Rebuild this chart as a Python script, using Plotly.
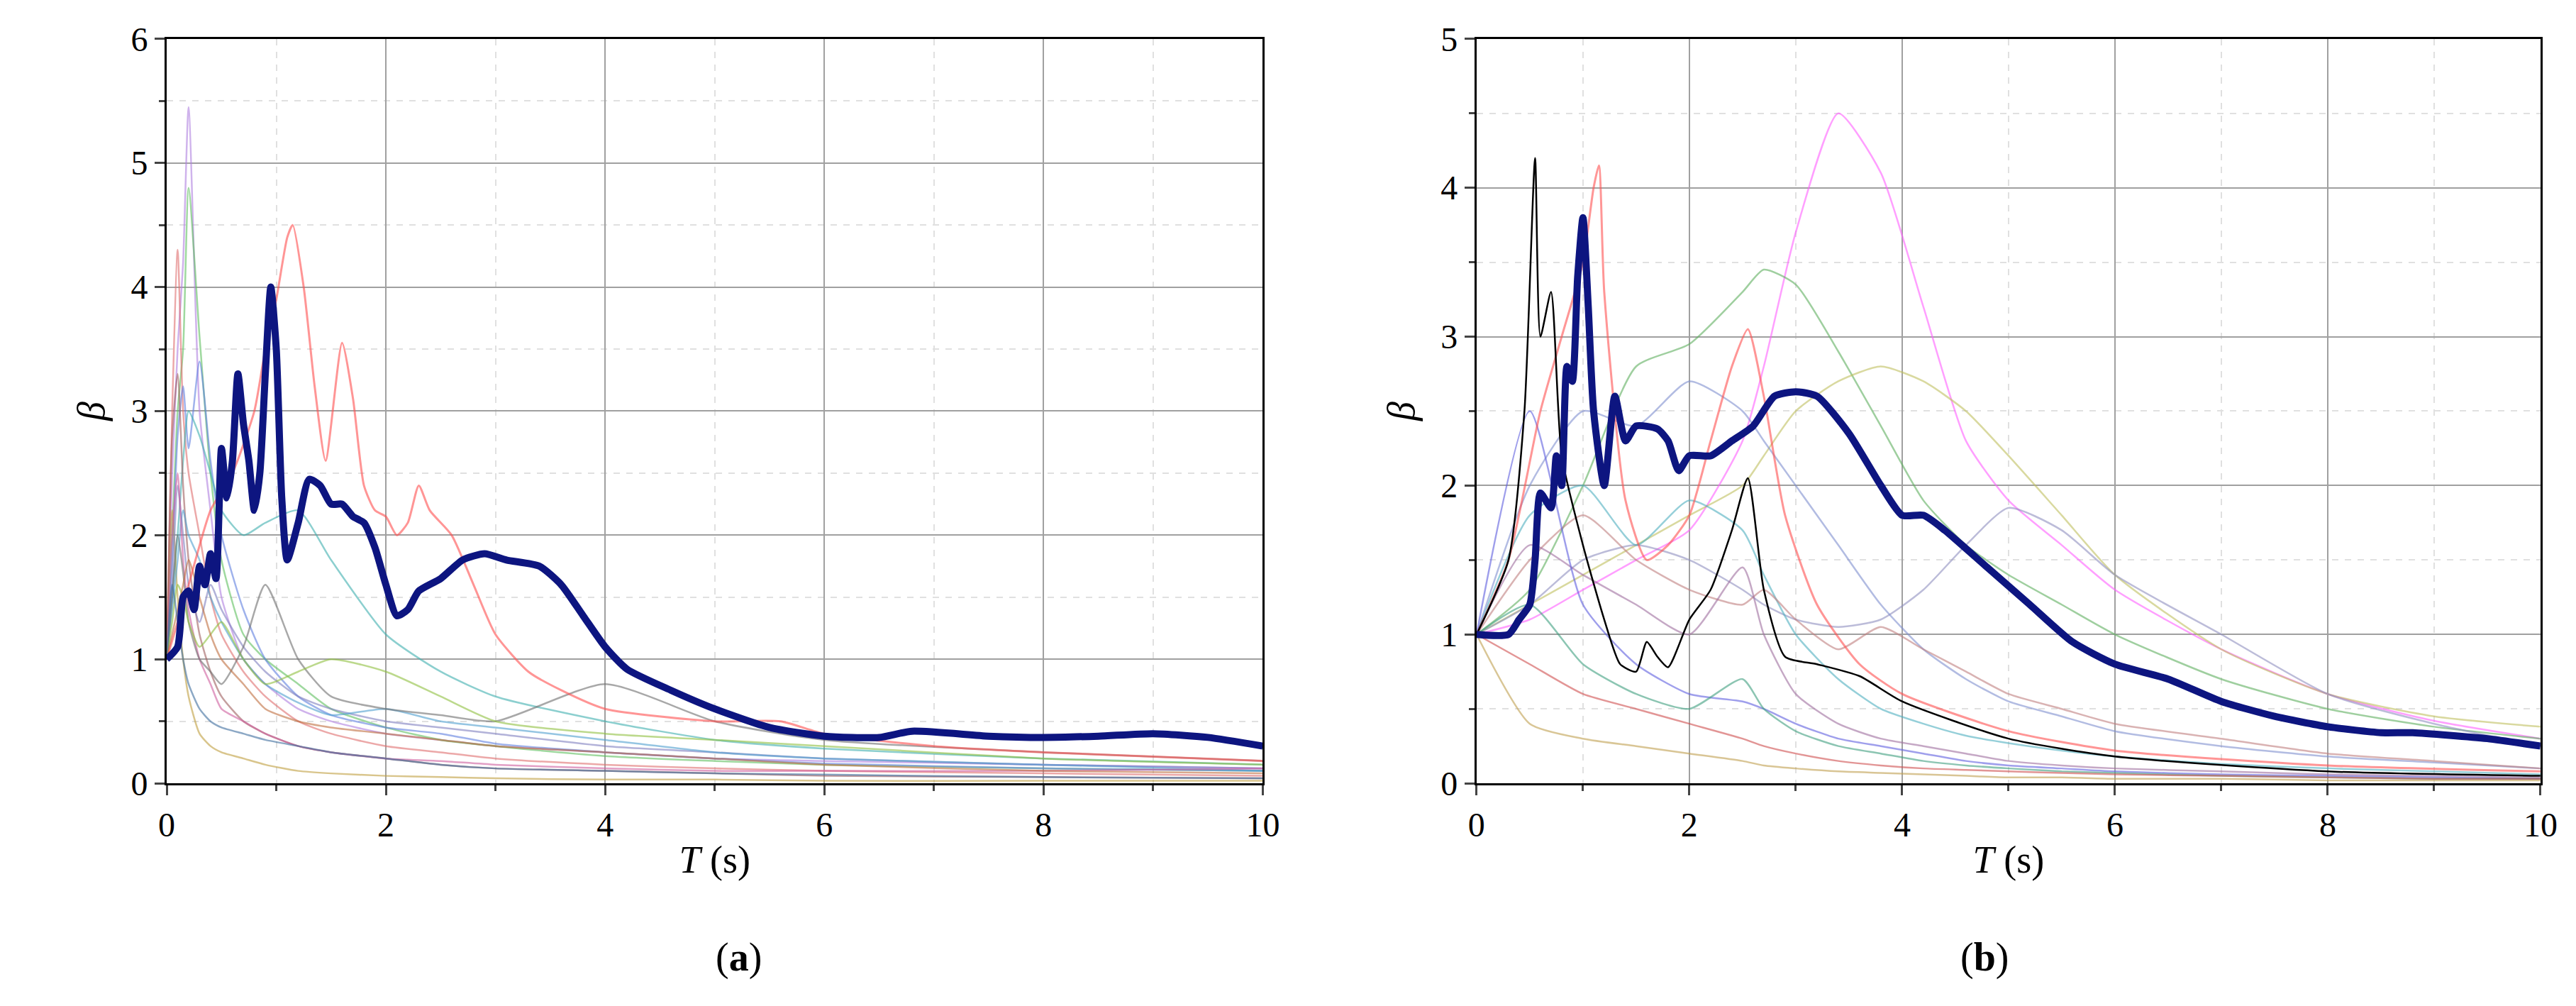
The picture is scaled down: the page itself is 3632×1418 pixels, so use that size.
import plotly.graph_objects as go

# ---------- data panel (a) ----------
a_mean_T = [0,0.1,0.15,0.2,0.25,0.3,0.35,0.4,0.45,0.5,0.55,0.6,0.65,0.7,0.75,0.8,0.85,0.9,0.95,1.0,1.05,1.1,1.2,1.3,1.4,1.5,1.6,1.7,1.8,1.9,2.0,2.1,2.2,2.3,2.5,2.7,2.9,3.1,3.4,3.6,3.8,4.0,4.2,4.6,5.0,5.5,6.0,6.5,6.8,7.5,8.0,8.5,9.0,9.5,10]
a_mean_b = [1.0,1.1,1.5,1.55,1.4,1.75,1.6,1.85,1.65,2.7,2.3,2.6,3.3,2.9,2.6,2.2,2.5,3.3,4.0,3.5,2.3,1.8,2.1,2.45,2.4,2.25,2.25,2.15,2.1,1.9,1.6,1.35,1.4,1.55,1.65,1.8,1.85,1.8,1.75,1.6,1.35,1.1,0.92,0.75,0.6,0.45,0.38,0.37,0.42,0.38,0.37,0.38,0.4,0.37,0.3]

a_red_T = [0,0.2,0.4,0.6,0.8,0.9,1.0,1.1,1.15,1.25,1.35,1.45,1.6,1.7,1.8,1.9,2.0,2.1,2.2,2.3,2.4,2.6,2.8,3.0,3.3,3.6,4.0,5.0,5.6,6.0,7,8,10]
a_red_b  = [1.0,1.6,2.2,2.5,3.0,3.5,3.9,4.4,4.5,4.0,3.2,2.6,3.55,3.1,2.4,2.2,2.15,2.0,2.1,2.4,2.2,2.0,1.6,1.2,0.9,0.75,0.6,0.5,0.5,0.4,0.3,0.25,0.18]

dec_T = [0,0.05,0.1,0.15,0.2,0.3,0.4,0.5,0.7,0.9,1.2,1.5,2.0,2.5,3.0,4.0,5.0,6.0,8.0,10]
a_lines = {
    "#b080e0": [1,2.5,3.5,4.2,5.45,3.0,2.2,1.5,1.0,0.8,0.6,0.5,0.4,0.35,0.3,0.25,0.2,0.18,0.15,0.12],
    "#60c060": [1,2.0,3.0,3.5,4.8,3.6,2.5,1.8,1.2,1.0,0.8,0.6,0.45,0.35,0.3,0.22,0.18,0.15,0.12,0.1],
    "#e07070": [1,3.0,4.3,3.0,2.5,2.0,1.5,1.2,0.9,0.7,0.5,0.4,0.3,0.25,0.2,0.15,0.12,0.1,0.08,0.06],
    "#6080e0": [1,1.8,2.8,3.2,2.7,3.4,2.6,2.0,1.4,1.0,0.7,0.55,0.45,0.4,0.32,0.25,0.2,0.16,0.12,0.1],
    "#40b0b0": [1,1.5,2.0,2.6,3.0,2.8,2.5,2.2,2.0,2.1,2.2,1.8,1.2,0.9,0.7,0.5,0.35,0.28,0.2,0.15],
    "#c0a040": [1,2.2,1.5,1.0,0.7,0.4,0.3,0.25,0.2,0.15,0.1,0.08,0.06,0.05,0.04,0.03,0.03,0.02,0.02,0.02],
    "#a06060": [1,2.8,3.3,2.4,1.8,1.2,0.9,0.7,0.5,0.4,0.3,0.25,0.2,0.15,0.12,0.1,0.08,0.06,0.05,0.04],
    "#8080c0": [1,1.6,2.4,2.0,1.6,1.3,1.6,1.4,1.1,0.9,0.7,0.6,0.5,0.45,0.4,0.3,0.25,0.2,0.15,0.12],
    "#50a0d0": [1,1.4,1.8,2.2,2.0,1.8,1.5,1.3,1.0,0.8,0.65,0.55,0.6,0.5,0.45,0.35,0.25,0.2,0.15,0.1],
    "#d060a0": [1,2.0,2.5,1.8,1.4,1.0,0.8,0.6,0.5,0.4,0.3,0.25,0.2,0.18,0.15,0.12,0.1,0.1,0.1,0.12],
    "#707070": [1,1.5,2.0,1.7,1.3,1.0,0.9,0.8,1.1,1.6,1.0,0.7,0.6,0.55,0.5,0.8,0.5,0.35,0.25,0.18],
    "#90c040": [1,1.3,1.6,1.5,1.3,1.1,1.2,1.3,1.0,0.8,0.9,1.0,0.9,0.7,0.5,0.4,0.35,0.3,0.2,0.15],
    "#c07040": [1,1.2,1.4,1.6,1.8,1.5,1.2,1.0,0.8,0.6,0.5,0.45,0.4,0.35,0.3,0.25,0.2,0.15,0.1,0.08],
    "#4070a0": [1,1.6,1.3,1.0,0.8,0.6,0.5,0.45,0.4,0.35,0.3,0.25,0.2,0.15,0.12,0.1,0.08,0.07,0.05,0.04],
}

# ---------- data panel (b) ----------
b_mean_T = [0,0.3,0.4,0.5,0.55,0.6,0.7,0.75,0.8,0.85,0.9,0.95,1.0,1.05,1.1,1.2,1.3,1.4,1.5,1.7,1.8,1.9,2.0,2.2,2.4,2.6,2.8,3.0,3.2,3.5,3.8,4.0,4.2,4.4,4.8,5.2,5.6,6.0,6.5,7.0,7.5,8.0,8.5,8.8,9.5,10]
b_mean_b = [1.0,1.0,1.1,1.2,1.5,1.95,1.85,2.2,2.0,2.8,2.7,3.4,3.8,3.2,2.5,2.0,2.6,2.3,2.4,2.38,2.3,2.1,2.2,2.2,2.3,2.4,2.6,2.63,2.6,2.35,2.0,1.8,1.8,1.7,1.45,1.2,0.95,0.8,0.7,0.55,0.45,0.38,0.34,0.34,0.3,0.25]

b_T = [0,0.5,1.0,1.5,2.0,2.5,2.7,3.0,3.4,3.8,4.2,4.6,5.0,5.5,6.0,7.0,8.0,9.0,10]
b_lines = {
    "#ff60ff": [1,1.1,1.3,1.5,1.7,2.3,2.8,3.7,4.5,4.1,3.2,2.3,1.9,1.6,1.3,0.9,0.6,0.42,0.3],
    "#60b060": [1,1.3,2.0,2.8,2.95,3.3,3.45,3.35,2.9,2.4,1.9,1.6,1.4,1.2,1.0,0.7,0.5,0.38,0.3],
    "#c0c060": [1,1.2,1.4,1.6,1.8,2.0,2.2,2.5,2.7,2.8,2.7,2.5,2.2,1.8,1.4,0.9,0.6,0.45,0.38],
    "#9090c0": [1,1.2,1.5,1.6,1.5,1.3,1.2,1.1,1.05,1.1,1.3,1.6,1.85,1.7,1.4,1.0,0.6,0.4,0.25],
    "#8090d0": [1,2.0,2.5,2.4,2.7,2.5,2.3,2.0,1.6,1.2,0.9,0.7,0.55,0.45,0.35,0.25,0.18,0.14,0.1],
    "#50b0c0": [1,1.8,2.0,1.6,1.9,1.7,1.4,1.0,0.7,0.5,0.4,0.32,0.27,0.22,0.18,0.13,0.1,0.08,0.06],
    "#c08080": [1,1.5,1.8,1.5,1.3,1.2,1.3,1.1,0.9,1.05,0.9,0.75,0.6,0.5,0.4,0.3,0.2,0.15,0.1],
    "#a070a0": [1,1.6,1.4,1.2,1.0,1.45,1.0,0.6,0.4,0.3,0.25,0.2,0.15,0.12,0.1,0.08,0.06,0.05,0.04],
    "#6060e0": [1,2.5,1.2,0.8,0.6,0.55,0.5,0.4,0.3,0.25,0.2,0.15,0.12,0.1,0.08,0.06,0.05,0.04,0.03],
    "#c0a050": [1,0.4,0.3,0.25,0.2,0.15,0.12,0.1,0.08,0.07,0.06,0.05,0.04,0.04,0.03,0.03,0.02,0.02,0.02],
    "#40a080": [1,1.2,0.8,0.6,0.5,0.7,0.5,0.35,0.25,0.2,0.15,0.12,0.1,0.08,0.07,0.05,0.04,0.03,0.03],
    "#d05050": [1,0.8,0.6,0.5,0.4,0.3,0.25,0.2,0.15,0.12,0.1,0.09,0.08,0.07,0.06,0.05,0.04,0.03,0.03],
}
b_red_T = [0,0.3,0.6,0.8,1.0,1.1,1.15,1.2,1.4,1.6,1.8,2.0,2.2,2.4,2.55,2.7,2.9,3.2,3.6,4,5,6,8,10]
b_red_b = [1,1.5,2.5,3.0,3.5,4.0,4.15,3.3,1.9,1.5,1.6,1.8,2.3,2.8,3.05,2.6,1.8,1.2,0.8,0.6,0.35,0.22,0.12,0.08]
b_blk_T = [0,0.3,0.45,0.55,0.6,0.7,0.8,1.0,1.2,1.35,1.5,1.6,1.7,1.8,2.0,2.2,2.4,2.55,2.7,2.9,3.2,3.6,4.0,5.0,6.0,8.0,10]
b_blk_b = [1,1.5,2.5,4.2,3.0,3.3,2.2,1.6,1.1,0.8,0.75,0.95,0.85,0.78,1.1,1.3,1.7,2.05,1.3,0.85,0.8,0.72,0.55,0.3,0.18,0.08,0.05]

fig = go.Figure()
def add(x, y, color, width, xa, ya, op=0.6):
    fig.add_trace(go.Scatter(x=x, y=y, mode="lines", line=dict(color=color, width=width, shape="spline", smoothing=0.6),
                             opacity=op, xaxis=xa, yaxis=ya, showlegend=False, hoverinfo="skip"))

for c, v in a_lines.items():
    add(dec_T, v, c, 2.5, "x", "y")
add(a_red_T, a_red_b, "#ff5050", 3, "x", "y")
add(a_mean_T, a_mean_b, "#0d1580", 10, "x", "y", 1)

for c, v in b_lines.items():
    add(b_T, v, c, 2.5, "x2", "y2")
add(b_red_T, b_red_b, "#ff5050", 3, "x2", "y2")
add(b_blk_T, b_blk_b, "#000000", 2.5, "x2", "y2", 1)
add(b_mean_T, b_mean_b, "#0d1580", 10, "x2", "y2", 1)

SERIF = "Times New Roman, Liberation Serif, DejaVu Serif, serif"
font = dict(family=SERIF, size=48, color="black")
tfont = dict(family=SERIF, size=54, color="black")
ax = dict(range=[0,10], dtick=2, showgrid=True, gridcolor="#a0a0a0", gridwidth=2, showline=True, linecolor="black", linewidth=3,
          mirror=True, ticks="outside", ticklen=14, tickwidth=3, automargin=False,
          minor=dict(dtick=1, ticks="outside", ticklen=8, showgrid=True, gridcolor="#e0e0e0", griddash="dash"),
          zeroline=False, tickfont=font, title=dict(text="<i>T</i> (s)", font=tfont, standoff=5))
ay = dict(dtick=1, showgrid=True, gridcolor="#a0a0a0", gridwidth=2, showline=True, linecolor="black", linewidth=3, mirror=True,
          ticks="outside", ticklen=14, tickwidth=3, automargin=False,
          minor=dict(dtick=0.5, ticks="outside", ticklen=8, showgrid=True, gridcolor="#e0e0e0", griddash="dash"),
          zeroline=False, tickfont=font, title=dict(text="<i>β</i>", font=tfont, standoff=20))
fig.update_layout(
    width=3632, height=1418, paper_bgcolor="white", plot_bgcolor="white", margin=dict(l=0, r=0, t=0, b=0),
    font=dict(family=SERIF, color="black"),
    xaxis=dict(ax, domain=[0.0625, 0.488], anchor="y"),
    yaxis=dict(ay, domain=[0.227, 0.967], range=[0,6], anchor="x"),
    xaxis2=dict(ax, domain=[0.571, 0.984], anchor="y2"),
    yaxis2=dict(ay, domain=[0.227, 0.967], range=[0,5], anchor="x2"),
    annotations=[
        dict(text="(<b>a</b>)", x=0.275, y=0.03, xref="paper", yref="paper", showarrow=False, font=dict(family=SERIF, size=56, color="black")),
        dict(text="(<b>b</b>)", x=0.778, y=0.03, xref="paper", yref="paper", showarrow=False, font=dict(family=SERIF, size=56, color="black")),
    ],
)
fig.write_html("out.html")
